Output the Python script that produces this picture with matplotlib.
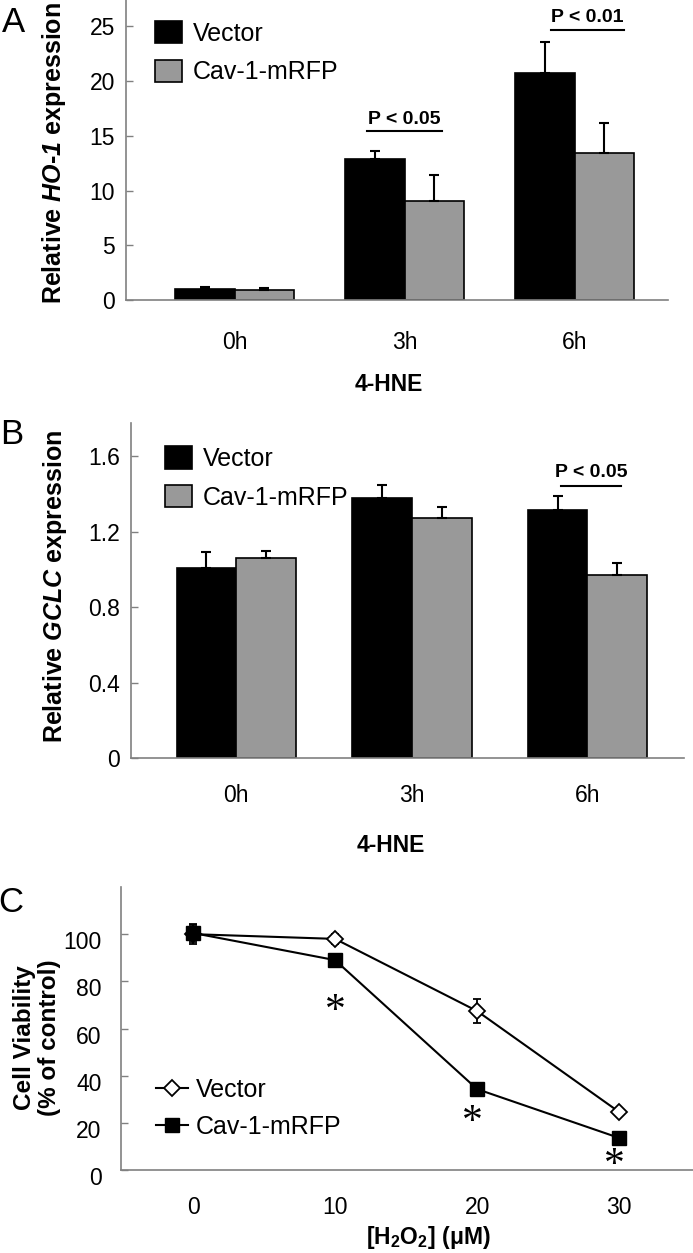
import matplotlib
matplotlib.use("Agg")
import matplotlib.pyplot as plt
import numpy as np
from matplotlib.lines import Line2D
from matplotlib.transforms import ScaledTranslation

plt.rcParams["font.family"] = ["Liberation Sans", "DejaVu Sans"]
plt.rcParams["mathtext.fontset"] = "custom"
plt.rcParams["mathtext.rm"] = "Liberation Sans"
plt.rcParams["mathtext.it"] = "Liberation Sans:italic"
plt.rcParams["mathtext.bf"] = "Liberation Sans:bold"
plt.rcParams["mathtext.bfit"] = "Liberation Sans:bold:italic"

# ── data ──────────────────────────────────────────────────────────────────────
times = ["0h", "3h", "6h"]

ho1_vec     = [1.0, 12.9, 20.7]
ho1_vec_err = [0.15, 0.75, 2.85]
ho1_cav     = [0.95, 9.0, 13.4]
ho1_cav_err = [0.12, 2.4, 2.75]

gclc_vec     = [1.005, 1.375, 1.313]
gclc_vec_err = [0.085, 0.07, 0.076]
gclc_cav     = [1.058, 1.269, 0.968]
gclc_cav_err = [0.04, 0.06, 0.064]

h2o2        = [0, 10, 20, 30]
via_vec     = [100, 98, 67.4, 24.6]
via_vec_err = [4, 2, 5, 1.5]
via_cav     = [100.5, 89, 34.3, 13.6]
via_cav_err = [4, 2.5, 1.5, 1.5]
star_x = [10, 19.7, 29.7]
star_y = [67, 20, 1.8]

# significance: group index, line start/end offset, line height, label
sig_a = [(1, -0.22, 0.22, 15.4, "P < 0.05"), (2, -0.14, 0.29, 24.7, "P < 0.01")]
sig_b = [(2, -0.15, 0.19, 1.441, "P < 0.05")]

GREY = "#999999"
SPINE = "#808080"

fig = plt.figure(figsize=(6.93, 12.53), dpi=100, facecolor="white")


def style_axes(ax):
    for s in ["top", "right"]:
        ax.spines[s].set_visible(False)
    for s in ["left", "bottom"]:
        ax.spines[s].set_color(SPINE)
        ax.spines[s].set_linewidth(1.2)
    ax.tick_params(axis="y", direction="in", length=5, width=1, color=SPINE,
                   labelsize=16.5, pad=8)
    ax.tick_params(axis="x", length=0, labelsize=16.5)


def bar_panel(ax, vec, vec_err, cav, cav_err, w, sig, txt_off, anchor):
    x = np.arange(len(times))
    ekw = dict(ecolor="black", elinewidth=1.5, capsize=3.6, capthick=1.5)
    ax.bar(x - w / 2, vec, w, color="black", edgecolor="black", lw=1.2,
           yerr=[np.zeros(len(vec)), vec_err], error_kw=ekw, label="Vector")
    ax.bar(x + w / 2, cav, w, color=GREY, edgecolor="black", lw=1.2,
           yerr=[np.zeros(len(cav)), cav_err], error_kw=ekw, label="Cav-1-mRFP")
    for g, d0, d1, yl, lab in sig:
        ax.plot([g + d0, g + d1], [yl, yl], color="black", lw=1.5)
        ax.text(g + (d0 + d1) / 2, yl + txt_off, lab, ha="center", va="center",
                fontsize=14, fontweight="bold")
    ax.set_xticks(x)
    ax.set_xticklabels(times)
    style_axes(ax)
    ax.legend(frameon=False, fontsize=18, loc="upper left",
              handlelength=1.08, handleheight=1.0, handletextpad=0.45,
              labelspacing=0.55, borderpad=0, borderaxespad=0,
              bbox_to_anchor=anchor)


axA = fig.add_axes([126 / 693, 1 - 300 / 1253, 542 / 693, 300 / 1253])
axB = fig.add_axes([131 / 693, 1 - 758 / 1253, 553 / 693, 335 / 1253])
axC = fig.add_axes([121 / 693, 1 - 1170 / 1253, 572 / 693, 283 / 1253])

# ── panel A ──────────────────────────────────────────────────────────────────
bar_panel(axA, ho1_vec, ho1_vec_err, ho1_cav, ho1_cav_err, 0.35, sig_a, 1.1,
          (0.053, 0.93))
axA.set_xlim(-0.64, 2.55)
axA.set_ylim(0, 27.4)
axA.set_yticks([0, 5, 10, 15, 20, 25])
axA.tick_params(axis="x", pad=22)
axA.set_xlabel("4-HNE", fontsize=16.5, fontweight="bold")
axA.xaxis.set_label_coords(0.484, -0.243)
axA.set_ylabel(r"Relative $\mathbfit{HO}$-$\mathbfit{1}$ expression",
               fontsize=18, fontweight="bold")
axA.yaxis.set_label_coords(-0.107, 0.49)

# ── panel B ──────────────────────────────────────────────────────────────────
bar_panel(axB, gclc_vec, gclc_vec_err, gclc_cav, gclc_cav_err, 0.34, sig_b, 0.07,
          (0.061, 0.93))
axB.set_xlim(-0.6, 2.55)
axB.set_ylim(0, 1.775)
axB.set_yticks([0, 0.4, 0.8, 1.2, 1.6])
axB.set_yticklabels(["0", "0.4", "0.8", "1.2", "1.6"])
axB.tick_params(axis="x", pad=19)
axB.set_xlabel("4-HNE", fontsize=16.5, fontweight="bold")
axB.xaxis.set_label_coords(0.469, -0.228)
axB.set_ylabel(r"Relative $\mathbfit{GCLC}$ expression",
               fontsize=18, fontweight="bold")
axB.yaxis.set_label_coords(-0.112, 0.513)

# ── panel C ──────────────────────────────────────────────────────────────────
axC.errorbar(h2o2, via_vec, yerr=via_vec_err, color="black", lw=1.5,
             marker="D", ms=8.5, mfc="white", mec="black", mew=1.3,
             capsize=3, capthick=1.3, elinewidth=1.3, label="Vector", zorder=3)
axC.errorbar(h2o2, via_cav, yerr=via_cav_err, color="black", lw=1.5,
             marker="s", ms=10, mfc="black", mec="black",
             capsize=3, capthick=1.3, elinewidth=1.3, label="Cav-1-mRFP", zorder=4)
for sx, sy in zip(star_x, star_y):
    axC.text(sx, sy, "*", ha="center", va="center", fontsize=30,
             family="Liberation Serif")
axC.set_xlim(-5.07, 35.2)
axC.set_ylim(0, 120)
axC.set_xticks(h2o2)
axC.set_yticks([0, 20, 40, 60, 80, 100])
style_axes(axC)
axC.tick_params(axis="y", pad=14)
axC.tick_params(axis="x", pad=19)
for lab in axC.get_yticklabels():
    lab.set_transform(lab.get_transform() + ScaledTranslation(0, -0.06, fig.dpi_scale_trans))
axC.set_xlabel(r"[H$_\mathbf{2}$O$_\mathbf{2}$] (μM)", fontsize=16.5, fontweight="bold")
axC.xaxis.set_label_coords(0.538, -0.19)
axC.set_ylabel("Cell Viability\n(% of control)", fontsize=17.5, fontweight="bold",
               linespacing=1.1)
axC.yaxis.set_label_coords(-0.105, 0.466)
handles = [Line2D([], [], color="black", lw=1.5, marker="D", ms=8.5, mfc="white",
                  mec="black", mew=1.3),
           Line2D([], [], color="black", lw=1.5, marker="s", ms=10, mfc="black")]
axC.legend(handles, ["Vector", "Cav-1-mRFP"], frameon=False, fontsize=18,
           loc="upper left", bbox_to_anchor=(0.061, 0.325), handlelength=1.3,
           handletextpad=0.3, labelspacing=0.5, borderpad=0, borderaxespad=0)

# panel letters
fig.text(13 / 693, 1 - 22 / 1253, "A", fontsize=25, ha="center", va="center")
fig.text(12 / 693, 1 - 434 / 1253, "B", fontsize=25, ha="center", va="center")
fig.text(11 / 693, 1 - 902 / 1253, "C", fontsize=25, ha="center", va="center")

fig.savefig("out.png", dpi=100, facecolor="white")
